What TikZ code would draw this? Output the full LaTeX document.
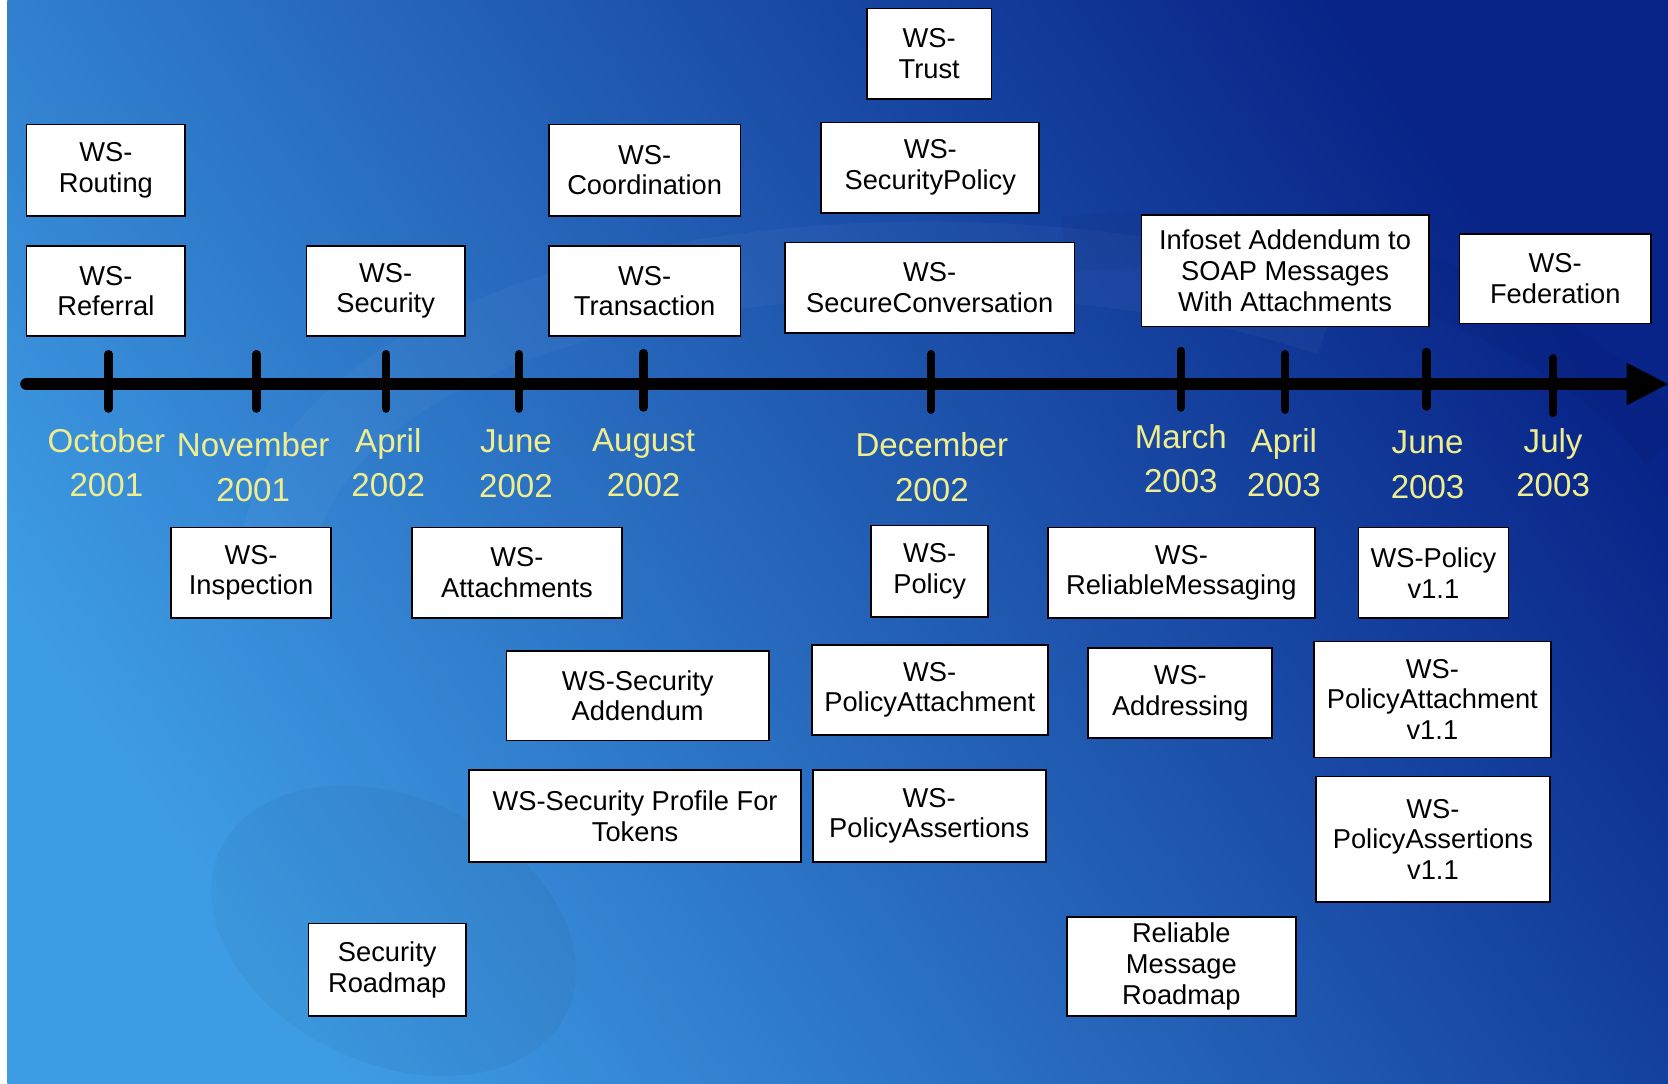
\documentclass[tikz,border=0pt]{standalone}
\usepackage{fontspec}
\setmainfont{Liberation Sans}
\definecolor{bglight}{RGB}{62,156,228}
\definecolor{bgmid}{RGB}{28,98,200}
\definecolor{bgdark}{RGB}{8,36,136}
\definecolor{dateyellow}{RGB}{240,238,140}
% a white specification box spanning two corners
\newcommand\wsbox[6]{%
  \node[box, minimum width={(#4-#2)*0.02cm}, minimum height={(#5-#3)*0.02cm}]
    (#1) at ({(#2+#4)/2},{(#3+#5)/2}) {#6};}
\begin{document}
\begin{tikzpicture}[x=0.02cm,y=-0.02cm,
  box/.style={draw=black, line width=0.9pt, fill=white, inner sep=0pt, align=center,
              font=\fontsize{14.6}{16.4}\selectfont},
  datelbl/.style={text=dateyellow, align=center, inner sep=0pt,
              font=\fontsize{17.7}{23.8}\selectfont},
  tickmark/.style={line width=4.6pt, line cap=round},
  axisline/.style={line width=6.8pt, line cap=round},
]
\useasboundingbox (0,0) rectangle (1568,1019);

% background
\fill[white] (0,0) rectangle (7,1019);
\shade[top color=bgdark, middle color=bgmid, bottom color=bglight, shading angle=-55]
  (7,0) rectangle (1568,1019);
% faint swoosh decoration
\begin{scope}
  \clip (7,0) rectangle (1568,1019);
  \fill[black, opacity=0.035, rotate around={-25:(370,875)}] (370,875) ellipse [x radius=180, y radius=125];
  \draw[white, opacity=0.03, line width=40pt] (260,520) .. controls (300,250) and (900,180) .. (1250,300);
  \draw[black, opacity=0.03, line width=30pt] (1000,230) .. controls (1300,200) and (1500,330) .. (1568,420);
\end{scope}

% time axis
\coordinate (axstart) at (25,361);
\coordinate (axend) at (1531,361);
\draw[axisline] (axstart) -- (axend);
\fill (1529,341) -- (1568,361) -- (1529,381) -- cycle;

% tick marks
\foreach \x/\a/\b in {102/333/384, 241/333/384, 363/333/384, 488/333/384, 605/332/383,
                      875/333/385, 1110/330/383, 1208/333/385, 1341/331/382, 1460/337/388}
  \draw[tickmark] (\x,\a) -- (\x,\b);

% dates
\node[datelbl] (d1)  at (100,435)  {October\\2001};
\node[datelbl] (d2)  at (238,439)  {November\\2001};
\node[datelbl] (d3)  at (365,435)  {April\\2002};
\node[datelbl] (d4)  at (485,436)  {June\\2002};
\node[datelbl] (d5)  at (605,435)  {August\\2002};
\node[datelbl] (d6)  at (876,439)  {December\\2002};
\node[datelbl] (d7)  at (1110,431) {March\\2003};
\node[datelbl] (d8)  at (1207,435) {April\\2003};
\node[datelbl] (d9)  at (1342,437) {June\\2003};
\node[datelbl] (d10) at (1460,435) {July\\2003};

% specifications above the axis
\wsbox{routing}{25}{117}{174}{203}{WS-\\Routing}
\wsbox{referral}{25}{231}{174}{316}{WS-\\Referral}
\wsbox{security}{288}{231}{437}{316}{WS-\\Security}
\wsbox{coordination}{516}{117}{696}{203}{WS-\\Coordination}
\wsbox{transaction}{516}{231}{696}{316}{WS-\\Transaction}
\wsbox{trust}{815}{8}{932}{93}{WS-\\Trust}
\wsbox{secpolicy}{772}{115}{977}{200}{WS-\\SecurityPolicy}
\wsbox{secconv}{738}{228}{1010}{313}{WS-\\SecureConversation}
\wsbox{infoset}{1073}{202}{1343}{307}{Infoset Addendum to\\SOAP Messages\\With Attachments}
\wsbox{federation}{1372}{220}{1552}{304}{WS-\\Federation}

% specifications below the axis
\wsbox{inspection}{161}{496}{311}{581}{WS-\\Inspection}
\wsbox{attachments}{387}{496}{585}{581}{WS-\\Attachments}
\wsbox{secaddendum}{476}{612}{723}{696}{WS-Security\\Addendum}
\wsbox{secprofile}{441}{724}{753}{810}{WS-Security Profile For\\Tokens}
\wsbox{secroadmap}{290}{868}{438}{955}{Security\\Roadmap}
\wsbox{policy}{819}{494}{929}{580}{WS-\\Policy}
\wsbox{polattach}{763}{606}{985}{691}{WS-\\PolicyAttachment}
\wsbox{polassert}{764}{724}{983}{810}{WS-\\PolicyAssertions}
\wsbox{relmsg}{985}{496}{1236}{581}{WS-\\ReliableMessaging}
\wsbox{addressing}{1023}{609}{1196}{694}{WS-\\Addressing}
\wsbox{relroadmap}{1003}{862}{1218}{955}{Reliable\\Message\\Roadmap}
\wsbox{policyv}{1277}{496}{1418}{581}{WS-Policy\\v1.1}
\wsbox{polattachv}{1235}{603}{1458}{712}{WS-\\PolicyAttachment\\v1.1}
\wsbox{polassertv}{1237}{730}{1457}{848}{WS-\\PolicyAssertions\\v1.1}
\end{tikzpicture}
\end{document}
